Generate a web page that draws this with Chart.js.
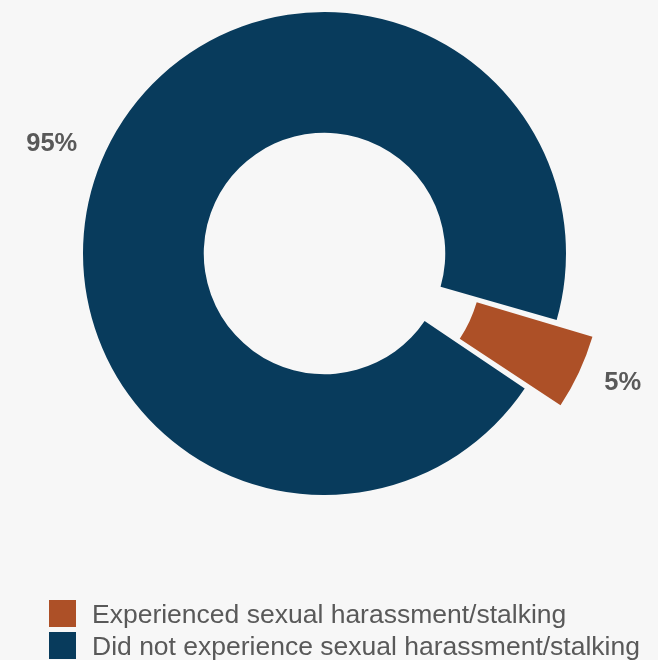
<!DOCTYPE html>
<html>
<head>
<meta charset="utf-8">
<script src="https://cdn.jsdelivr.net/npm/chart.js@4/dist/chart.umd.min.js"></script>
<style>
  html, body { margin: 0; padding: 0; background: #f7f7f7; }
  canvas { display: block; }
</style>
</head>
<body>
<canvas id="ring" width="658" height="660"></canvas>
<script>
// survey result: share of respondents
const categories = ["Experienced sexual harassment/stalking", "Did not experience sexual harassment/stalking"];
const shares = [5, 95];
const shareLabels = ["5%", "95%"];
const sliceColors = ["#ad5027", "#083b5c"];

const TEXT_GREY = "#595959";
const FONT = "'Liberation Sans', Arial, sans-serif";

// percentage text placed outside each slice (angle nudge in degrees, distance past the rim)
const labelPlacement = [
    { nudge: -1.8, dist: 83 },
    { nudge: -2.7, dist: 53.3 }
];

const outsideLabels = {
    id: "outsideLabels",
    afterDatasetsDraw(chart) {
        const ctx = chart.ctx;
        const arcs = chart.getDatasetMeta(0).data;
        ctx.save();
        ctx.font = "bold 25.5px " + FONT;
        ctx.fillStyle = TEXT_GREY;
        ctx.textAlign = "center";
        ctx.textBaseline = "alphabetic";
        arcs.forEach((arc, i) => {
            const p = labelPlacement[i];
            const mid = (arc.startAngle + arc.endAngle) / 2 + p.nudge * Math.PI / 180;
            const r = arc.outerRadius + p.dist;
            const x = arc.x + Math.cos(mid) * r;
            const y = arc.y + Math.sin(mid) * r;
            ctx.fillText(shareLabels[i], x, y + 9.1);
        });
        ctx.restore();
    }
};

// two-row legend under the ring, left aligned
const stackedLegend = {
    id: "stackedLegend",
    afterDraw(chart) {
        const ctx = chart.ctx;
        const colors = chart.data.datasets[0].backgroundColor;
        ctx.save();
        ctx.font = "26.5px " + FONT;
        ctx.textAlign = "left";
        ctx.textBaseline = "alphabetic";
        chart.data.labels.forEach((label, i) => {
            const top = 600 + i * 32;
            ctx.fillStyle = colors[i];
            ctx.fillRect(49, top, 27, 27);
            ctx.fillStyle = TEXT_GREY;
            ctx.fillText(label, 92, top + 23.3);
        });
        ctx.restore();
    }
};

new Chart(document.getElementById("ring"), {
    type: "doughnut",
    data: {
        labels: categories,
        datasets: [{
            data: shares,
            backgroundColor: sliceColors,
            borderWidth: 0,
            offset: [93, 0]
        }]
    },
    options: {
        responsive: false,
        animation: false,
        rotation: 106,
        radius: 241.5,
        cutout: "50%",
        layout: { padding: { left: 0, right: 9, top: 0, bottom: 153 } },
        plugins: {
            legend: { display: false },
            tooltip: { enabled: false }
        },
        events: []
    },
    plugins: [outsideLabels, stackedLegend]
});
</script>
</body>
</html>
